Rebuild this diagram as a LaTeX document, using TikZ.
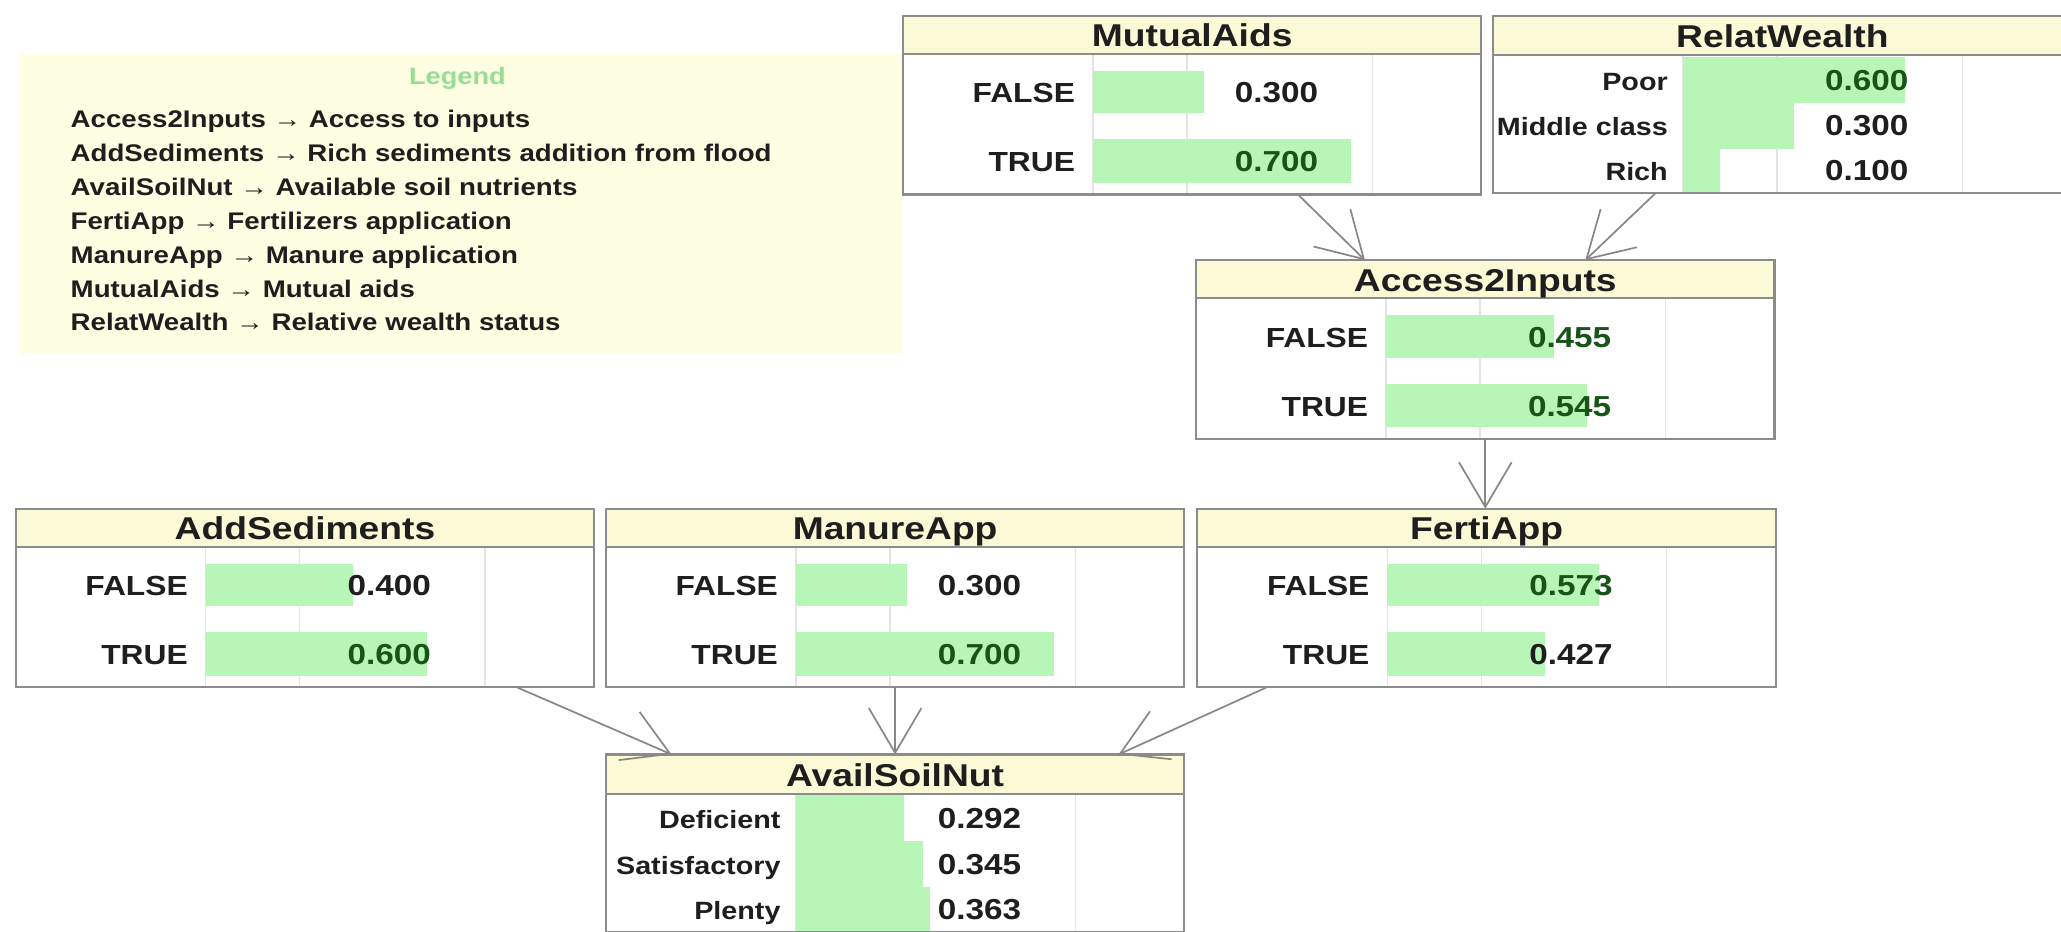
\documentclass[tikz,border=0pt]{standalone}
\usepackage{fontspec}
\setmainfont{Liberation Sans}
\usetikzlibrary{arrows.meta,calc}

\definecolor{hdrfill}{RGB}{252,250,214}
\definecolor{legfill}{RGB}{254,254,226}
\definecolor{barfill}{RGB}{184,246,184}
\definecolor{framecol}{RGB}{140,140,140}
\definecolor{gridcol}{RGB}{228,228,228}
\definecolor{txt}{RGB}{30,30,30}
\definecolor{valgreen}{RGB}{24,84,24}
\definecolor{edgecol}{RGB}{135,135,135}
\definecolor{legtitlecol}{RGB}{150,222,150}

% slightly widened lettering
\newcommand\sx[1]{\scalebox{1.15}[1]{#1}}
\newcommand\tx[1]{\scalebox{1.18}[1]{#1}}

\tikzset{
  bnframe/.style={draw=framecol, line width=1.6pt, inner sep=0pt, outer sep=0pt,
    anchor=north west, minimum width=440pt},
  hdr/.style={fill=hdrfill},
  gridl/.style={draw=gridcol, line width=1pt},
  barbox/.style={fill=barfill},
  ttl/.style={anchor=base, inner sep=0pt, font=\fontsize{24}{28}\selectfont\bfseries, text=txt},
  lbl/.style={anchor=base east, inner sep=0pt, font=\fontsize{21}{25}\selectfont\bfseries, text=txt},
  slbl/.style={anchor=base east, inner sep=0pt, font=\fontsize{19}{23}\selectfont\bfseries, text=txt},
  val/.style={anchor=base east, inner sep=0pt, font=\fontsize{22}{26}\selectfont\bfseries, text=txt},
  gval/.style={val, text=valgreen},
  link/.style={draw=edgecol, line width=1.3pt, -{Straight Barb[length=34pt,width=40pt]}},
  legtxt/.style={anchor=base west, inner sep=0pt, font=\fontsize{18.3}{22}\selectfont\bfseries, text=txt},
  legttl/.style={anchor=base, inner sep=0pt, font=\fontsize{18}{22}\selectfont\bfseries, text=legtitlecol},
}

% faint column rules: #1 box height, #2 header height
\newcommand\gridlines[2]{%
  \draw[gridl] (144.5,#2)--(144.5,#1) (216,#2)--(216,#1) (357,#2)--(357,#1);}

% frame, header and title: #1 name, #2 title, #3 height, #4 header height, #5 title baseline
\newcommand\bnbox[5]{%
  \fill[hdr] (0,0) rectangle (440,#4);
  \node[bnframe, minimum height=#3pt] (#1) at (0,0) {};
  \draw[draw=framecol, line width=1.6pt] (0,#4) -- (440,#4);
  \node[ttl] (#1-t) at (220,#5) {\tx{#2}};}

% FALSE/TRUE rows: #1 name, #2 p(FALSE), #3 p(TRUE), #4 #5 value styles
\newcommand\tworows[5]{%
  \fill[barbox] (144.5,42) rectangle ({144.5+281*#2},74);
  \fill[barbox] (144.5,94) rectangle ({144.5+281*#3},127);
  \node[lbl] (#1-l1) at (131,66) {\sx{FALSE}};
  \node[lbl] (#1-l2) at (131,118.5) {\sx{TRUE}};
  \node[#4] (#1-v1) at (316,66) {\sx{#2}};
  \node[#5] (#1-v2) at (316,118.5) {\sx{#3}};}

% one row of a three-state table: #1 name, #2 top, #3 bottom, #4 baseline,
% #5 state, #6 probability, #7 value style
\newcommand\srow[7]{%
  \fill[barbox] (144.5,#2) rectangle ({144.5+281*#6},#3);
  \node[slbl] (#1-l) at (133,#4) {\sx{#5}};
  \node[#7] (#1-v) at (316,#4) {\sx{#6}};}

\begin{document}
\begin{tikzpicture}[x=1pt,y=-1pt]
  \useasboundingbox (0,0) rectangle (1568,709);
  \clip (0,0) rectangle (1568,709);
  \fill[white] (0,0) rectangle (1568,709);

  % legend panel
  \fill[legfill] (15,41) rectangle (686,269);
  \node[legttl] (legtitle) at (348,64) {\sx{Legend}};
  \node[legtxt] (lg1) at (53.6,97.0)  {\sx{Access2Inputs → Access to inputs}};
  \node[legtxt] (lg2) at (53.6,122.8) {\sx{AddSediments → Rich sediments addition from flood}};
  \node[legtxt] (lg3) at (53.6,148.6) {\sx{AvailSoilNut → Available soil nutrients}};
  \node[legtxt] (lg4) at (53.6,174.4) {\sx{FertiApp → Fertilizers application}};
  \node[legtxt] (lg5) at (53.6,200.2) {\sx{ManureApp → Manure application}};
  \node[legtxt] (lg6) at (53.6,226.0) {\sx{MutualAids → Mutual aids}};
  \node[legtxt] (lg7) at (53.6,251.8) {\sx{RelatWealth → Relative wealth status}};

  % MutualAids
  \begin{scope}[shift={(687,12)}]
    \gridlines{136}{29}
    \tworows{mua}{0.300}{0.700}{val}{gval}
    \bnbox{mua}{MutualAids}{136}{29}{23.5}
  \end{scope}

  % RelatWealth
  \begin{scope}[shift={(1136,12)}]
    \gridlines{135}{30}
    \srow{rw1}{31}{66}{56.5}{Poor}{0.600}{gval}
    \srow{rw2}{66}{101}{91}{Middle class}{0.300}{val}
    \srow{rw3}{101}{135}{125.5}{Rich}{0.100}{val}
    \bnbox{rw}{RelatWealth}{135}{30}{24}
  \end{scope}

  % Access2Inputs
  \begin{scope}[shift={(910,198)}]
    \gridlines{136}{29}
    \tworows{a2i}{0.455}{0.545}{gval}{gval}
    \bnbox{a2i}{Access2Inputs}{136}{29}{23.5}
  \end{scope}

  % AddSediments
  \begin{scope}[shift={(12,387)}]
    \gridlines{136}{29}
    \tworows{ads}{0.400}{0.600}{val}{gval}
    \bnbox{ads}{AddSediments}{136}{29}{23.5}
  \end{scope}

  % ManureApp
  \begin{scope}[shift={(461,387)}]
    \gridlines{136}{29}
    \tworows{man}{0.300}{0.700}{val}{gval}
    \bnbox{man}{ManureApp}{136}{29}{23.5}
  \end{scope}

  % FertiApp
  \begin{scope}[shift={(911,387)}]
    \gridlines{136}{29}
    \tworows{fa}{0.573}{0.427}{gval}{val}
    \bnbox{fa}{FertiApp}{136}{29}{23.5}
  \end{scope}

  % AvailSoilNut
  \begin{scope}[shift={(461,574)}]
    \gridlines{135}{30}
    \srow{asn1}{31}{66}{56.5}{Deficient}{0.292}{val}
    \srow{asn2}{66}{101}{91}{Satisfactory}{0.345}{val}
    \srow{asn3}{101}{135}{125.5}{Plenty}{0.363}{val}
    \bnbox{asn}{AvailSoilNut}{135}{30}{24}
  \end{scope}

  % dependencies
  \draw[link] ($(mua.south)+(80.5,0)$) -- ($(a2i.north)+(-91.5,0)$);
  \draw[link] ($(rw.south)+(-96.5,0)$) -- ($(a2i.north)+(76,0)$);
  \draw[link] (a2i.south) -- (a2i.south |- fa.north);
  \draw[link] ($(ads.south)+(161.5,0)$) -- ($(asn.north)+(-170,0)$);
  \draw[link] (man.south) -- (man.south |- asn.north);
  \draw[link] ($(fa.south)+(-167.5,0)$) -- ($(asn.north)+(170,0)$);
\end{tikzpicture}
\end{document}
